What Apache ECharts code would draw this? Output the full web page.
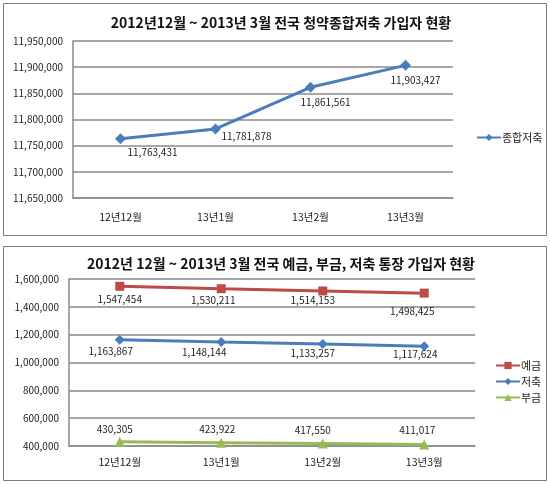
<!DOCTYPE html>
<html lang="ko">
<head>
<meta charset="UTF-8">
<title>가입자 현황</title>
<script src="https://cdn.jsdelivr.net/npm/echarts@6/dist/echarts.min.js"></script>
<style>
  html, body { margin: 0; padding: 0; background: #fff; }
  #main { width: 550px; height: 484px; }
</style>
</head>
<body>
<div id="main"></div>
<script type="text/javascript">
// data
var months = ['12년12월', '13년1월', '13년2월', '13년3월'];
var jonghap = [11763431, 11781878, 11861561, 11903427];   // 종합저축
var yegeum = [1547454, 1530211, 1514153, 1498425];        // 예금
var jeochuk = [1163867, 1148144, 1133257, 1117624];       // 저축
var bugeum = [430305, 423922, 417550, 411017];            // 부금

// label shifts (layout only)
var shiftTop = [[32, 14], [31, 7], [15, 15], [10, 15]];
var shiftYe = [[0, 13], [-8, 11], [-10, 9], [-12, 18]];
var shiftJe = [[-9, 12], [-17, 10], [-10, 9], [-9, 8]];
var shiftBu = [[-5, -13], [-4, -13], [-10, -13], [-7, -14]];

var FONT = '"Noto Sans CJK KR", "Noto Sans", sans-serif';
var GRID_C = '#8a8a8a';

function fmt(v) { return Number(v).toLocaleString('en-US'); }

function points(vals, shifts) {
    return vals.map(function (v, i) {
        return { value: v, label: { offset: shifts[i] } };
    });
}

function xAx(idx, margin) {
    return {
        type: 'category', gridIndex: idx, data: months, boundaryGap: true,
        axisLine: { lineStyle: { color: GRID_C, width: 1.5 } },
        axisTick: { show: false },
        axisLabel: { color: '#222', fontSize: 10.5, fontFamily: FONT, margin: margin }
    };
}

function yAx(idx, mn, mx, step) {
    return {
        type: 'value', gridIndex: idx, min: mn, max: mx, interval: step,
        axisLine: { show: true, lineStyle: { color: GRID_C, width: 1.5 } },
        axisTick: { show: false },
        splitLine: { lineStyle: { color: GRID_C, width: 1.5 } },
        axisLabel: { color: '#222', fontSize: 10, fontFamily: FONT, margin: 10, formatter: fmt }
    };
}

function lineSeries(name, vals, shifts, color, symbol, size, gi) {
    return {
        name: name, type: 'line', xAxisIndex: gi, yAxisIndex: gi,
        data: points(vals, shifts),
        symbol: symbol, symbolSize: size,
        itemStyle: { color: color },
        lineStyle: { color: color, width: 3 },
        label: {
            show: true, position: 'inside', color: '#222',
            fontSize: 10, fontFamily: FONT, formatter: function (p) { return fmt(p.value); }
        },
        emphasis: { disabled: true },
        animation: false
    };
}

var myChart = echarts.init(document.getElementById('main'));

var option = {
    backgroundColor: '#fff',
    title: [
        {
            text: '2012년12월 ~ 2013년 3월 전국 청약종합저축 가입자 현황',
            left: 276, top: 11, textAlign: 'center',
            textStyle: { fontSize: 14, fontWeight: 'bold', color: '#111', fontFamily: FONT }
        },
        {
            text: '2012년 12월 ~ 2013년 3월 전국 예금, 부금, 저축 통장 가입자 현황',
            left: 276, top: 252, textAlign: 'center',
            textStyle: { fontSize: 14, fontWeight: 'bold', color: '#111', fontFamily: FONT }
        }
    ],
    legend: [
        {
            data: ['종합저축'], orient: 'vertical', left: 471, top: 127,
            itemWidth: 24, itemHeight: 9,
            textStyle: { fontSize: 11, color: '#222', fontFamily: FONT, padding: [0, 0, 0, -4] }
        },
        {
            data: ['예금', '저축', '부금'], orient: 'vertical', left: 490, top: 355,
            itemWidth: 24, itemHeight: 9, itemGap: 5,
            textStyle: { fontSize: 11, color: '#222', fontFamily: FONT, padding: [0, 0, 0, -4] }
        }
    ],
    grid: [
        { left: 73, top: 41, width: 380, height: 157 },
        { left: 69, top: 279, width: 406, height: 167 }
    ],
    xAxis: [xAx(0, 14), xAx(1, 11)],
    yAxis: [
        yAx(0, 11650000, 11950000, 50000),
        yAx(1, 400000, 1600000, 200000)
    ],
    series: [
        lineSeries('종합저축', jonghap, shiftTop, '#4A7EBB', 'diamond', 11, 0),
        lineSeries('예금', yegeum, shiftYe, '#BE4B48', 'rect', 9, 1),
        lineSeries('저축', jeochuk, shiftJe, '#4A7EBB', 'diamond', 10, 1),
        lineSeries('부금', bugeum, shiftBu, '#98B954', 'triangle', 10, 1)
    ],
    graphic: [
        { type: 'rect', shape: { x: 3.5, y: 3.5, width: 543, height: 232 },
          style: { fill: 'none', stroke: '#7a7a7a', lineWidth: 1 }, silent: true },
        { type: 'rect', shape: { x: 3.5, y: 246.5, width: 543, height: 234 },
          style: { fill: 'none', stroke: '#7a7a7a', lineWidth: 1 }, silent: true }
    ],
    animation: false
};

myChart.setOption(option);
</script>
</body>
</html>
